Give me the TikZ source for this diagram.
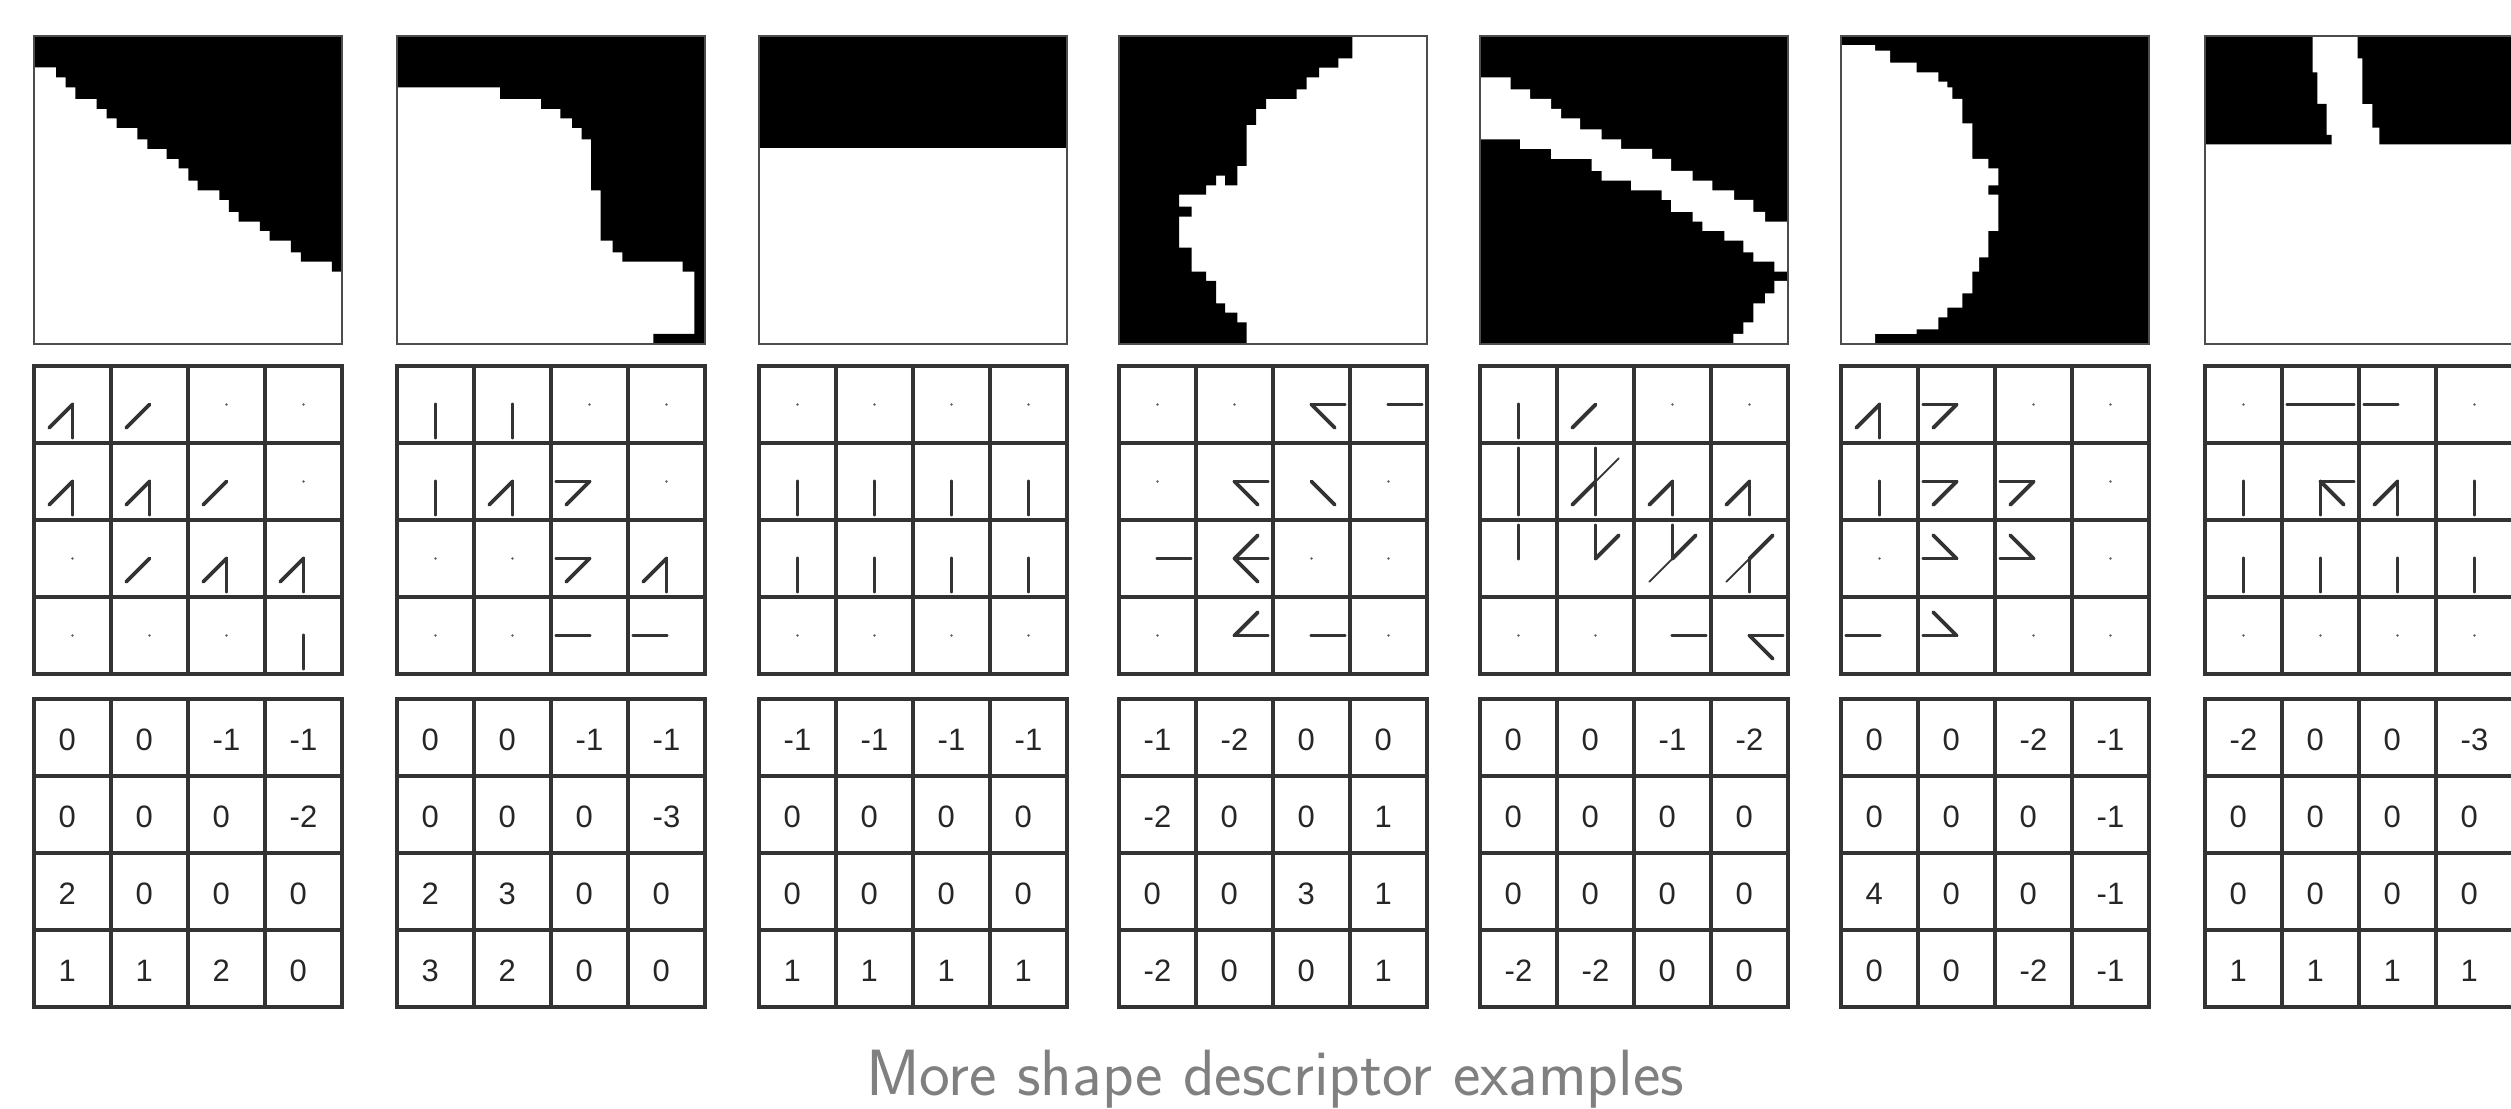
\documentclass[tikz,border=0pt]{standalone}
\usepackage{fontspec}
\newfontfamily\numfont{Liberation Sans}

\tikzset{
  imgframe/.style={draw=black!70, line width=0.6pt},
  gridline/.style={draw=black!80, line width=0.95pt},
  ray/.style={draw=black!80, line width=1.1pt, line cap=round},
  thinray/.style={draw=black!80, line width=0.5pt, line cap=round},
  centerdot/.style={fill=black!60},
  numtext/.style={font=\numfont\fontsize{8.8}{10}\selectfont, text=black!85,
                  anchor=west, inner sep=0pt},
  captiontext/.style={font=\sffamily\fontsize{18.6}{21}\selectfont, text=black!50,
                      anchor=base, inner sep=0pt}
}

% binary image: #1 left edge, #2 x origin of the pixel outline, #3 fill commands
\newcommand\shapeimage[3]{%
  \begin{scope}
    \clip (#1,36) rectangle ++(308,308);
    \fill[white] (#1,36) rectangle ++(308,308);
    \begin{scope}[shift={(#2,30)}, scale=0.33333]
      #3
    \end{scope}
  \end{scope}
  \draw[imgframe] (#1,36) rectangle ++(308,308);}

% 4x4 cell lines: #1 left edge, #2 top edge
\newcommand\cellgrid[2]{%
  \begin{scope}[shift={(#1,#2)}]
    \foreach \i in {77,154,231}{
      \draw[gridline] (\i,0) -- (\i,308);
      \draw[gridline] (0,\i) -- (308,\i);}
    \draw[gridline] (0,0) rectangle (308,308);
  \end{scope}}

% orientation grid: #1 left edge, #2 list row/col/{angles}
\newcommand\dirgrid[2]{%
  \begin{scope}[shift={(#1,366)}]
    \foreach \r in {1,...,4}{\foreach \c in {1,...,4}{
      \fill[centerdot] ({(\c-0.5)*77},{(\r-0.5)*77}) circle[radius=0.4pt];}}
    \foreach \r/\c/\a in {#2}{\foreach \ang in \a {
      \draw[ray] ({(\c-0.5)*77},{(\r-0.5)*77}) -- ++(\ang:33);}}
  \end{scope}
  \cellgrid{#1}{366}}

% weaker orientation strokes: #1 left edge, #2 list row/col/angle
\newcommand\thinrays[2]{%
  \begin{scope}[shift={(#1,366)}]
    \foreach \r/\c/\ang in {#2}{
      \draw[thinray] ({(\c-0.5)*77},{(\r-0.5)*77}) -- ++(\ang:33);}
  \end{scope}}

% one row of descriptor values: #1 key, #2 left edge, #3 row, #4 values
\newcommand\numrow[4]{%
  \foreach \v [count=\c] in {#4}{
    \node[numtext] (num-#1-#3-\c) at ({#2+(\c-1)*77+24},{699+(#3-0.5)*77+2}) {\v};}}

\newcommand\numgrid[6]{%
  \numrow{#1}{#2}{1}{#3}\numrow{#1}{#2}{2}{#4}%
  \numrow{#1}{#2}{3}{#5}\numrow{#1}{#2}{4}{#6}%
  \cellgrid{#2}{699}}

\begin{document}
\begin{tikzpicture}[x=0.01cm,y=-0.01cm]
\useasboundingbox (0,0) rectangle (2511,1109);
\clip (0,0) rectangle (2511,1109);
\fill[white] (0,0) rectangle (2511,1109);

% ---------- binary patches ----------
\shapeimage{34}{30}{
  \fill (0,0) -- (1000,0) -- (1000,725) -- (906,725) -- (906,695) -- (813,695) -- (813,667)
    -- (783,667) -- (783,632) -- (719,632) -- (719,603) -- (690,603) -- (690,575) -- (626,575)
    -- (626,546) -- (597,546) -- (597,510) -- (568,510) -- (568,481) -- (503,481) -- (503,452)
    -- (475,452) -- (475,415) -- (446,415) -- (446,387) -- (410,387) -- (410,357) -- (352,357)
    -- (352,328) -- (322,328) -- (322,294) -- (260,294) -- (260,265) -- (230,265) -- (230,237)
    -- (200,237) -- (200,207) -- (136,207) -- (136,172) -- (107,172) -- (107,142) -- (78,142)
    -- (78,112) -- (0,112) -- cycle;}

\shapeimage{397}{390}{
  \fill (0,0) -- (1000,0) -- (1000,1000) -- (790,1000) -- (790,912) -- (913,912) -- (913,725)
    -- (878,725) -- (878,695) -- (697,695) -- (697,667) -- (668,667) -- (668,632) -- (632,632)
    -- (632,481) -- (603,481) -- (603,328) -- (575,328) -- (575,294) -- (546,294) -- (546,265)
    -- (511,265) -- (511,237) -- (453,237) -- (453,207) -- (330,207) -- (330,172) -- (0,172) -- cycle;}

\shapeimage{759}{750}{
  \fill (0,0) rectangle (1000,355);}

\shapeimage{1119}{1110}{
  \fill (0,0) -- (727,0) -- (727,85) -- (685,85) -- (685,113) -- (627,113) -- (627,142)
    -- (590,142) -- (590,178) -- (560,178) -- (560,207) -- (468,207) -- (468,237) -- (438,237)
    -- (438,285) -- (410,285) -- (410,408) -- (382,408) -- (382,466) -- (345,466) -- (345,437)
    -- (318,437) -- (318,466) -- (288,466) -- (288,494) -- (207,494) -- (207,530) -- (245,530)
    -- (245,560) -- (207,560) -- (207,653) -- (245,653) -- (245,725) -- (288,725) -- (288,753)
    -- (318,753) -- (318,820) -- (345,820) -- (345,848) -- (382,848) -- (382,877) -- (410,877)
    -- (410,1000) -- (0,1000) -- cycle;}

\shapeimage{1480}{1470}{
  \fill (0,0) rectangle (1000,1000);
  \fill[white] (0,142) -- (122,142) -- (122,178) -- (180,178) -- (180,207) -- (243,207)
    -- (243,237) -- (273,237) -- (273,265) -- (330,265) -- (330,298) -- (395,298) -- (395,328)
    -- (453,328) -- (453,357) -- (546,357) -- (546,387) -- (603,387) -- (603,423) -- (668,423)
    -- (668,452) -- (727,452) -- (727,481) -- (792,481) -- (792,510) -- (850,510) -- (850,546)
    -- (885,546) -- (885,575) -- (1000,575) -- (1000,725) -- (913,725) -- (913,695) -- (850,695)
    -- (850,667) -- (820,667) -- (820,632) -- (763,632) -- (763,603) -- (697,603) -- (697,575)
    -- (668,575) -- (668,546) -- (603,546) -- (603,510) -- (575,510) -- (575,481) -- (483,481)
    -- (483,452) -- (395,452) -- (395,423) -- (365,423) -- (365,387) -- (243,387) -- (243,357)
    -- (150,357) -- (150,328) -- (0,328) -- cycle;
  \fill[white] (1000,753) -- (913,753) -- (913,790) -- (885,790) -- (885,820) -- (850,820)
    -- (850,877) -- (820,877) -- (820,912) -- (790,912) -- (790,1000) -- (1000,1000) -- cycle;}

\shapeimage{1841}{1830}{
  \fill (0,0) rectangle (1000,1000);
  \fill[white] (0,45) -- (135,45) -- (135,62) -- (180,62) -- (180,98) -- (260,98) -- (260,127)
    -- (325,127) -- (325,155) -- (352,155) -- (352,172) -- (367,172) -- (367,207) -- (397,207)
    -- (397,280) -- (427,280) -- (427,387) -- (475,387) -- (475,415) -- (505,415) -- (505,466)
    -- (475,466) -- (475,494) -- (505,494) -- (505,603) -- (475,603) -- (475,682) -- (447,682)
    -- (447,725) -- (427,725) -- (427,790) -- (397,790) -- (397,833) -- (352,833) -- (352,862)
    -- (325,862) -- (325,898) -- (260,898) -- (260,912) -- (135,912) -- (135,1000) -- (0,1000) -- cycle;}

\shapeimage{2205}{2190}{
  \fill (0,0) -- (368,0) -- (368,127) -- (382,127) -- (382,222) -- (410,222) -- (410,315)
    -- (425,315) -- (425,343) -- (0,343) -- cycle;
  \fill (503,0) -- (1100,0) -- (1100,343) -- (568,343) -- (568,293) -- (547,293) -- (547,222)
    -- (517,222) -- (517,85) -- (503,85) -- cycle;}

% ---------- orientation grids (0 = right, 90 = down) ----------
\dirgrid{34}{1/1/{135,90},1/2/135,2/1/{135,90},2/2/{135,90},2/3/135,3/2/135,3/3/{135,90},3/4/{135,90},4/4/90}
\dirgrid{397}{1/1/90,1/2/90,2/1/90,2/2/{135,90},2/3/{180,135},3/3/{180,135},3/4/{135,90},4/3/180,4/4/180}
\dirgrid{759}{2/1/90,2/2/90,2/3/90,2/4/90,3/1/90,3/2/90,3/3/90,3/4/90}
\dirgrid{1119}{1/3/{0,45},1/4/0,2/2/{0,45},2/3/45,3/1/0,3/2/{0,315,45},4/2/{0,315},4/3/0}
\dirgrid{1480}{1/1/90,1/2/135,2/1/{270,90},2/2/{270,90,135},2/3/{135,90},2/4/{135,90},3/1/270,3/2/{270,315},3/3/{270,315},3/4/{90,315},4/3/0,4/4/{0,45}}
\thinrays{1480}{2/2/315,3/3/135,3/4/135}
\dirgrid{1841}{1/1/{90,135},1/2/{180,135},2/1/90,2/2/{180,135},2/3/{180,135},3/2/{180,225},3/3/{180,225},4/1/180,4/2/{180,225}}
\dirgrid{2205}{1/2/{180,0},1/3/180,2/1/90,2/2/{90,0,45},2/3/{90,135},2/4/90,3/1/90,3/2/90,3/3/90,3/4/90}

% ---------- descriptor values ----------
\numgrid{a}{34}{0,0,-1,-1}{0,0,0,-2}{2,0,0,0}{1,1,2,0}
\numgrid{b}{397}{0,0,-1,-1}{0,0,0,-3}{2,3,0,0}{3,2,0,0}
\numgrid{c}{759}{-1,-1,-1,-1}{0,0,0,0}{0,0,0,0}{1,1,1,1}
\numgrid{d}{1119}{-1,-2,0,0}{-2,0,0,1}{0,0,3,1}{-2,0,0,1}
\numgrid{e}{1480}{0,0,-1,-2}{0,0,0,0}{0,0,0,0}{-2,-2,0,0}
\numgrid{f}{1841}{0,0,-2,-1}{0,0,0,-1}{4,0,0,-1}{0,0,-2,-1}
\numgrid{g}{2205}{-2,0,0,-3}{0,0,0,0}{0,0,0,0}{1,1,1,1}

\node[captiontext] (caption) at (1275,1095) {More shape descriptor examples};
\end{tikzpicture}
\end{document}
